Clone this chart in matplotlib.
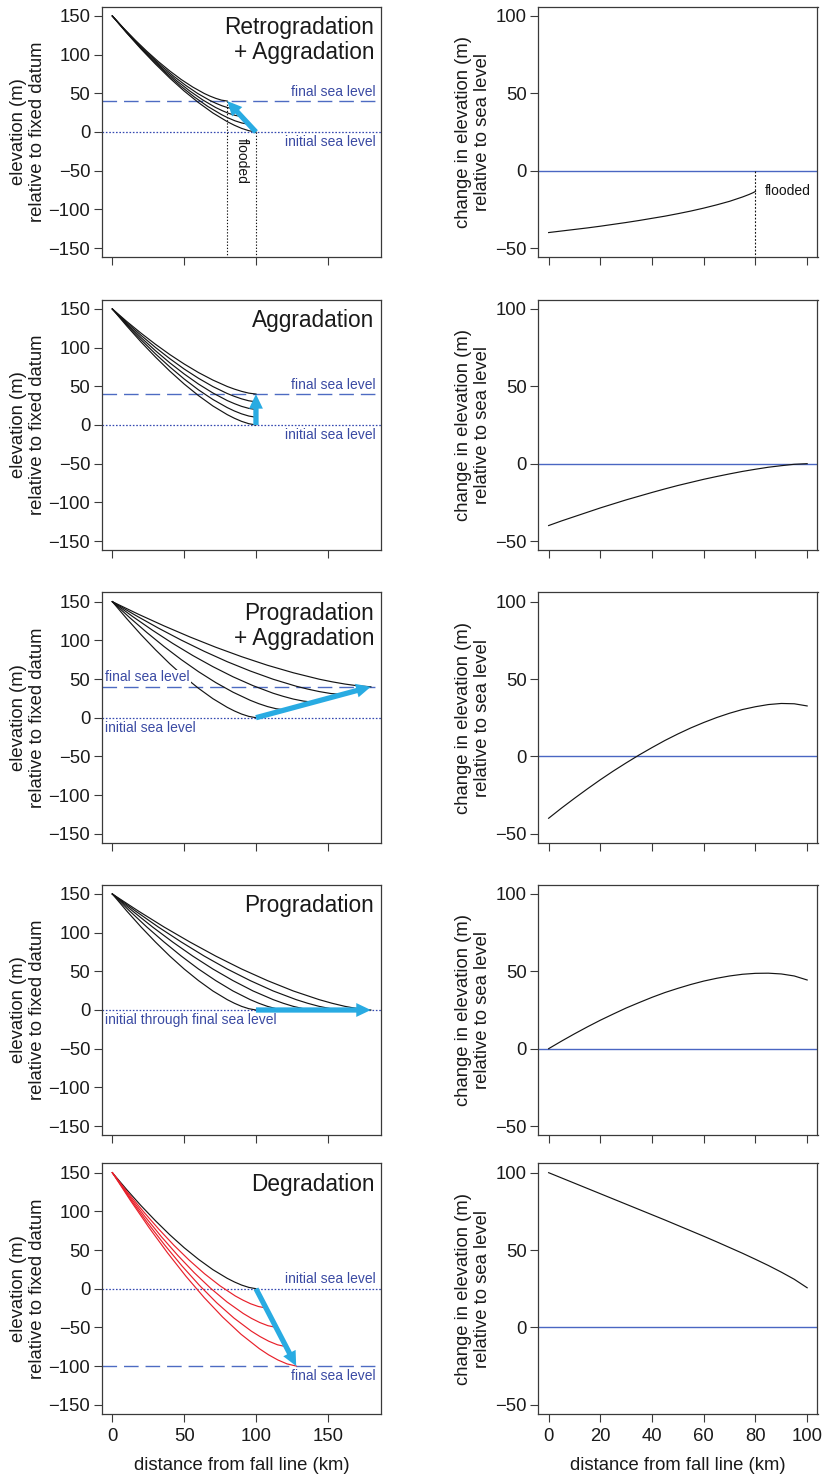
import matplotlib
matplotlib.use("Agg")
import matplotlib.pyplot as plt

plt.rcParams['font.family'] = ['Liberation Sans', 'DejaVu Sans']

# ------------------------------------------------------------------ data
# distances (km) along each profile, named by shoreline distance
x_to80 = [0, 8, 16, 24, 32, 40, 48, 56, 64, 68, 72, 76, 80]
x_to85 = [0, 8.5, 17, 25.5, 34, 42.5, 51, 59.5, 68, 72.25, 76.5, 80.75, 85]
x_to90 = [0, 9, 18, 27, 36, 45, 54, 63, 72, 76.5, 81, 85.5, 90]
x_to95 = [0, 9.5, 19, 28.5, 38, 47.5, 57, 66.5, 76, 80.75, 85.5, 90.25, 95]
x_to100 = [0, 10, 20, 30, 40, 50, 60, 70, 80, 85, 90, 95, 100]
x_to107 = [0, 10.7, 21.4, 32.1, 42.8, 53.5, 64.2, 74.9, 85.6, 90.95, 96.3, 101.65, 107]
x_to114 = [0, 11.4, 22.8, 34.2, 45.6, 57, 68.4, 79.8, 91.2, 96.9, 102.6, 108.3, 114]
x_to120 = [0, 12, 24, 36, 48, 60, 72, 84, 96, 102, 108, 114, 120]
x_to121 = [0, 12.1, 24.2, 36.3, 48.4, 60.5, 72.6, 84.7, 96.8, 102.85, 108.9, 114.95, 121]
x_to128 = [0, 12.8, 25.6, 38.4, 51.2, 64, 76.8, 89.6, 102.4, 108.8, 115.2, 121.6, 128]
x_to140 = [0, 14, 28, 42, 56, 70, 84, 98, 112, 119, 126, 133, 140]
x_to160 = [0, 16, 32, 48, 64, 80, 96, 112, 128, 136, 144, 152, 160]
x_to180 = [0, 18, 36, 54, 72, 90, 108, 126, 144, 153, 162, 171, 180]

# profile elevations (m), named by shoreline elevation
z_sl0 = [150, 128.1, 107.3, 87.9, 69.7, 53.0, 38.0, 24.6, 13.4, 8.7, 4.7, 1.7, 0]
z_sl10 = [150, 129.5, 110.2, 92.0, 75.1, 59.5, 45.4, 33.0, 22.5, 18.1, 14.4, 11.6, 10]
z_sl20 = [150, 131.0, 113.0, 96.1, 80.4, 66.0, 52.9, 41.4, 31.6, 27.6, 24.1, 21.5, 20]
z_sl30 = [150, 132.5, 115.9, 100.3, 85.8, 72.4, 60.4, 49.7, 40.7, 37.0, 33.8, 31.3, 30]
z_sl40 = [150, 133.9, 118.7, 104.4, 91.1, 78.9, 67.8, 58.1, 49.8, 46.4, 43.5, 41.2, 40]
z_slm25 = [150, 124.4, 100.2, 77.5, 56.3, 36.9, 19.3, 3.8, -9.4, -14.8, -19.5, -23.0, -25]
z_slm50 = [150, 120.8, 93.1, 67.1, 43.0, 20.7, 0.6, -17.1, -32.1, -38.4, -43.7, -47.8, -50]
z_slm75 = [150, 117.1, 86.0, 56.8, 29.6, 4.6, -18.1, -38.0, -54.9, -61.9, -67.9, -72.5, -75]
z_slm100 = [150, 113.5, 78.9, 46.4, 16.2, -11.6, -36.7, -58.9, -77.6, -85.5, -92.1, -97.2, -100]

# change in elevation relative to sea level (right column)
d_x = [0, 5, 10, 15, 20, 25, 30, 35, 40, 45, 50, 55, 60, 65, 70, 75, 80, 85, 90, 95, 100]
d_retro_x = [0, 5, 10, 15, 20, 25, 30, 35, 40, 45, 50, 55, 60, 65, 70, 75, 77.5, 79, 80]
d_retro = [-40.0, -39.0, -38.0, -37.0, -35.9, -34.7, -33.5, -32.2, -30.8, -29.4, -27.8,
           -26.1, -24.2, -22.1, -19.8, -17.0, -15.4, -14.3, -13.4]
d_aggr = [-40.0, -37.0, -34.2, -31.4, -28.6, -26.0, -23.4, -21.0, -18.6, -16.3, -14.1,
          -12.1, -10.1, -8.3, -6.6, -5.0, -3.6, -2.3, -1.3, -0.4, 0.0]
d_progaggr = [-40.0, -33.4, -27.1, -21.0, -15.1, -9.5, -4.2, 0.9, 5.7, 10.3, 14.5,
              18.4, 21.9, 25.1, 27.9, 30.3, 32.1, 33.5, 34.2, 34.0, 32.6]
d_prog = [0.0, 4.9, 9.6, 14.1, 18.4, 22.4, 26.3, 29.8, 33.2, 36.3, 39.0,
          41.5, 43.7, 45.5, 47.0, 48.1, 48.7, 48.8, 48.3, 47.0, 44.4]
d_degr = [100.0, 96.6, 93.2, 89.8, 86.4, 83.0, 79.6, 76.2, 72.8, 69.4, 65.9,
          62.4, 58.9, 55.3, 51.6, 47.9, 44.0, 40.0, 35.7, 31.1, 25.6]

panel_titles = ["Retrogradation\n+ Aggradation", "Aggradation",
                "Progradation\n+ Aggradation", "Progradation", "Degradation"]
initial_sea = [0, 0, 0, 0, 0]
final_sea = [40, 40, 40, 0, -100]

left_xticks = [0, 50, 100, 150]
left_yticks = [-150, -100, -50, 0, 50, 100, 150]
right_xticks = [0, 20, 40, 60, 80, 100]
right_yticks = [-50, 0, 50, 100]

profiles = [
    [(x_to100, z_sl0), (x_to95, z_sl10), (x_to90, z_sl20), (x_to85, z_sl30), (x_to80, z_sl40)],
    [(x_to100, z_sl0), (x_to100, z_sl10), (x_to100, z_sl20), (x_to100, z_sl30), (x_to100, z_sl40)],
    [(x_to100, z_sl0), (x_to120, z_sl10), (x_to140, z_sl20), (x_to160, z_sl30), (x_to180, z_sl40)],
    [(x_to100, z_sl0), (x_to120, z_sl0), (x_to140, z_sl0), (x_to160, z_sl0), (x_to180, z_sl0)],
    [(x_to100, z_sl0), (x_to107, z_slm25), (x_to114, z_slm50), (x_to121, z_slm75), (x_to128, z_slm100)],
]
changes = [(d_retro_x, d_retro), (d_x, d_aggr), (d_x, d_progaggr), (d_x, d_prog), (d_x, d_degr)]

# ------------------------------------------------------------------ style
BLACK = "#141414"
RED = "#e8202a"
ARROW = "#29abe2"
SEA_TXT = "#3a4aa3"
SEA_DASH = "#4d6bc2"
SEA_DOT = "#3448b0"
ZERO = "#4a66c2"
SPINE = "#3a3a3a"
TICK_FS = 13.3
TITLE_FS = 16.3
NOTE_FS = 10

W, H = 828, 1475
fig = plt.figure(figsize=(W / 100, H / 100), dpi=100)

row_top = [6.7, 299.7, 592.4, 884.7, 1163.4]
ax_h = 250.6
ax_w = 279.2
left_x0 = 102.0
right_x0 = 538.3


def make_axes(x0, top):
    return fig.add_axes([x0 / W, 1 - (top + ax_h) / H, ax_w / W, ax_h / H])


def style_axes(ax, show_x):
    for s in ax.spines.values():
        s.set_color(SPINE)
        s.set_linewidth(0.9)
    ax.tick_params(direction='out', length=5.5, width=0.8, color=SPINE,
                   labelsize=TICK_FS, labelcolor="#1a1a1a", pad=3)
    ax.tick_params(axis='x', pad=4.5)
    if not show_x:
        ax.tick_params(axis='x', labelbottom=False)


def sea_line(ax, y, kind):
    if kind == 'dash':
        ax.axhline(y, color=SEA_DASH, lw=1.0, dashes=(10.5, 5), zorder=1)
    else:
        ax.axhline(y, color=SEA_DOT, lw=0.9, dashes=(1.3, 1.4), zorder=1)


for r in range(5):
    last = (r == 4)
    # ---------------- left column
    ax = make_axes(left_x0, row_top[r])
    ax.set_xlim(-7.2, 187.2)
    ax.set_ylim(-162, 162)
    ax.set_xticks(left_xticks)
    ax.set_yticks(left_yticks)
    style_axes(ax, last)

    if final_sea[r] != initial_sea[r]:
        sea_line(ax, final_sea[r], 'dash')
    sea_line(ax, initial_sea[r], 'dot')

    for i, (xs, zs) in enumerate(profiles[r]):
        col = RED if (r == 4 and i > 0) else BLACK
        ax.plot(xs, zs, color=col, lw=0.85, zorder=3, solid_joinstyle='round')

    x_start, z_start = profiles[r][0][0][-1], profiles[r][0][1][-1]
    x_end, z_end = profiles[r][-1][0][-1], profiles[r][-1][1][-1]
    ax.annotate("", xy=(x_end, z_end), xytext=(x_start, z_start),
                arrowprops=dict(arrowstyle="simple,tail_width=0.38,head_width=1.0,head_length=1.05",
                                mutation_scale=10, color=ARROW, lw=0,
                                shrinkA=0, shrinkB=0), zorder=5)

    ax.text(0.975, 0.962, panel_titles[r], transform=ax.transAxes, ha='right', va='top',
            fontsize=TITLE_FS, color="#1a1a1a", linespacing=1.12, multialignment='right')

    ybot = ax.get_ylim()[0]
    if r in (0, 1):
        ax.text(183.5, final_sea[r] + 3, "final sea level", ha='right', va='bottom',
                fontsize=NOTE_FS, color=SEA_TXT)
        ax.text(183.5, initial_sea[r] - 4, "initial sea level", ha='right', va='top',
                fontsize=NOTE_FS, color=SEA_TXT)
    elif r == 2:
        ax.text(-5, final_sea[r] + 3, "final sea level", ha='left', va='bottom',
                fontsize=NOTE_FS, color=SEA_TXT, zorder=4,
                bbox=dict(facecolor='white', edgecolor='none', pad=0.6))
        ax.text(-5, initial_sea[r] - 4, "initial sea level", ha='left', va='top',
                fontsize=NOTE_FS, color=SEA_TXT)
    elif r == 3:
        ax.text(-5, initial_sea[r] - 4, "initial through final sea level", ha='left', va='top',
                fontsize=NOTE_FS, color=SEA_TXT)
    else:
        ax.text(183.5, initial_sea[r] + 3, "initial sea level", ha='right', va='bottom',
                fontsize=NOTE_FS, color=SEA_TXT)
        ax.text(183.5, final_sea[r] - 4, "final sea level", ha='right', va='top',
                fontsize=NOTE_FS, color=SEA_TXT)

    if r == 0:
        ax.plot([x_end, x_end], [z_end, ybot], color=BLACK, lw=0.8, dashes=(1.2, 1.6), zorder=2)
        ax.plot([x_start, x_start], [z_start, ybot], color=BLACK, lw=0.8, dashes=(1.2, 1.6), zorder=2)
        ax.text((x_start + x_end) / 2, -38, "flooded", rotation=270, ha='center', va='center',
                fontsize=NOTE_FS, color=BLACK)

    if last:
        ax.set_xlabel("distance from fall line (km)", fontsize=TICK_FS, color="#1a1a1a", labelpad=9)

    yc = 1 - (row_top[r] + ax_h / 2) / H
    fig.text(28 / W, yc, "elevation (m)\nrelative to fixed datum", rotation=90,
             ha='center', va='center', fontsize=TICK_FS, color="#1a1a1a",
             multialignment='center', linespacing=1.1)

    # ---------------- right column
    axr = make_axes(right_x0, row_top[r])
    axr.set_xlim(-4, 104)
    axr.set_ylim(-56, 106)
    axr.set_xticks(right_xticks)
    axr.set_yticks(right_yticks)
    style_axes(axr, last)
    axr.axhline(0, color=ZERO, lw=1.0, zorder=1)
    cx, cy = changes[r]
    axr.plot(cx, cy, color=BLACK, lw=0.85, zorder=3)
    if r == 0:
        axr.plot([cx[-1], cx[-1]], [0, axr.get_ylim()[0]], color=BLACK, lw=0.8,
                 dashes=(1.6, 1.6), zorder=2)
        axr.text(cx[-1] + 3.5, -13, "flooded", ha='left', va='center',
                 fontsize=NOTE_FS, color=BLACK)
    if last:
        axr.set_xlabel("distance from fall line (km)", fontsize=TICK_FS, color="#1a1a1a", labelpad=9)
    fig.text(473 / W, yc, "change in elevation (m)\nrelative to sea level", rotation=90,
             ha='center', va='center', fontsize=TICK_FS, color="#1a1a1a",
             multialignment='center', linespacing=1.1)

fig.savefig("out.png", dpi=100)
